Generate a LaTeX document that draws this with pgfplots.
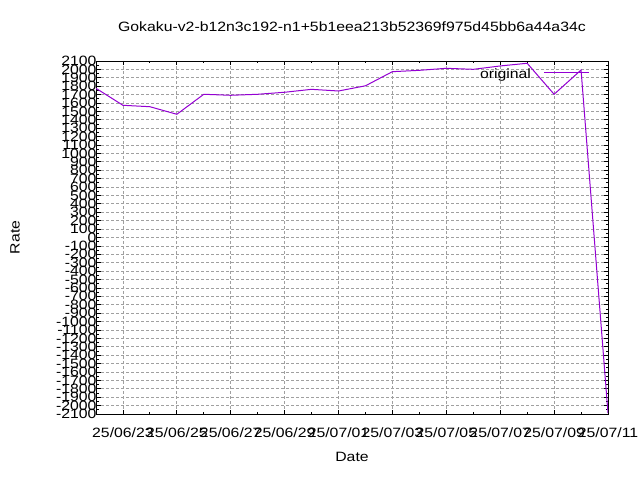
\documentclass[border=0pt]{standalone}
\usepackage{fontspec}
\setmainfont{Liberation Sans}[FakeStretch=1.17]
\usepackage{pgfplots}
\pgfplotsset{compat=1.18}
\definecolor{gpviolet}{HTML}{9400D3}
\definecolor{gpgrid}{HTML}{A0A0A0}
\newcommand\gpfont{\fontsize{13.5bp}{16bp}\selectfont}
\begin{document}
\begin{tikzpicture}[font=\gpfont]
\useasboundingbox (0,0) rectangle (640bp,480bp);
\begin{axis}[
  at={(96bp,66bp)}, anchor=south west,
  scale only axis, width=512bp, height=353bp,
  xmin=0, xmax=19, ymin=-2100, ymax=2100,
  axis line style={black, line width=0.9bp},
  xtick={1,3,...,19},
  xticklabels={25/06/23,25/06/25,25/06/27,25/06/29,25/07/01,25/07/03,25/07/05,25/07/07,25/07/09,25/07/11},
  minor x tick num=1,
  ytick={-2100,-2000,...,2100},
  minor y tick num=1,
  scaled y ticks=false,
  yticklabel style={/pgf/number format/assume math mode=true, /pgf/number format/1000 sep={}, /pgf/number format/fixed, anchor=east, xshift=4bp, font=\gpfont},
  xticklabel style={anchor=base, yshift=-23.7bp, font=\gpfont},
  tick align=inside,
  tick pos=both,
  major tick length=4.5bp,
  minor tick length=2.5bp,
  every tick/.style={black, line width=0.8bp},
  grid=major,
  major grid style={gpgrid, dash pattern=on 2.5bp off 2.5bp, line width=0.8bp},
  title={Gokaku-v2-b12n3c192-n1+5b1eea213b52369f975d45bb6a44a34c},
  title style={at={(0.5,1)}, anchor=base, yshift=24bp, font=\gpfont},
  xlabel={Date},
  xlabel style={at={(0.5,0)}, anchor=base, yshift=-47bp, font=\gpfont},
  ylabel={Rate},
  ylabel style={at={(rel axis cs:0,0.5)}, anchor=center, yshift=81bp, font=\gpfont},
  legend plot pos=right,
  legend cell align=right,
  legend image code/.code={\draw[#1] (0bp,1.2bp) -- (45bp,1.2bp);},
  legend style={draw=none, fill=none, inner sep=0pt, outer sep=0pt, nodes={inner sep=0pt}, column sep=13bp, at={(0.9648,0.963)}, anchor=east, font=\gpfont},
]
\addplot[gpviolet, line width=1bp, mark=none] coordinates {
(0,1775) (1,1573) (2,1556) (3,1466) (4,1704) (5,1692) (6,1704) (7,1728)
(8,1763) (9,1743) (10,1805) (11,1973) (12,1989) (13,2013) (14,2001)
(15,2041) (16,2073) (17,1704) (18,1993) (19,-2090)
};
\addlegendentry{original}
\end{axis}
\end{tikzpicture}
\end{document}
